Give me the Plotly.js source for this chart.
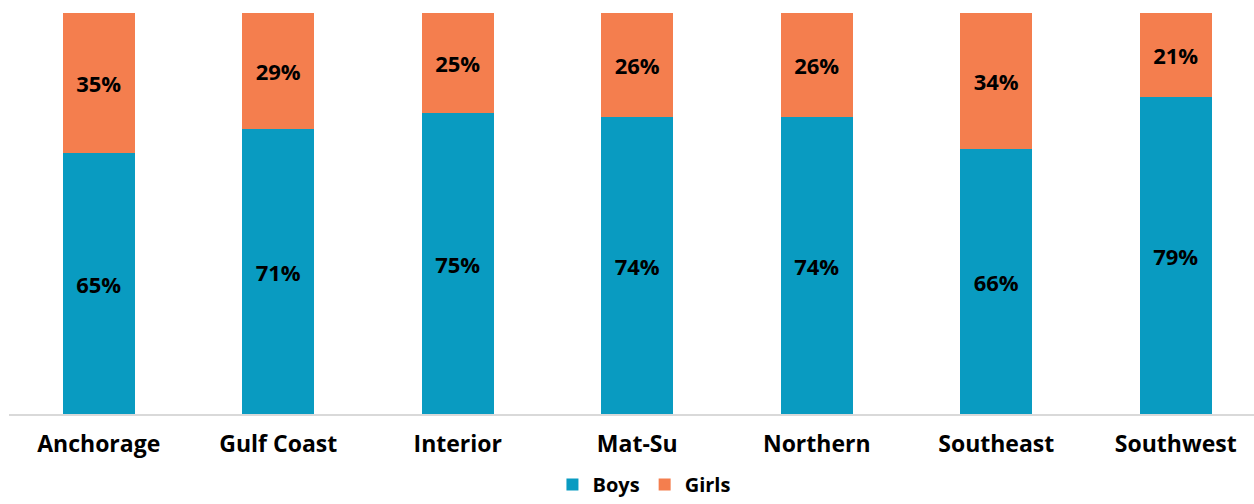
<!DOCTYPE html>
<html>
<head>
<meta charset="utf-8">
<script src="https://cdn.plot.ly/plotly-3.0.1.min.js"></script>
<style>html,body{margin:0;padding:0;background:#fff;}#chart{width:1254px;height:504px;}</style>
</head>
<body>
<div id="chart"></div>
<script>
const regions = ["Anchorage", "Gulf Coast", "Interior", "Mat-Su", "Northern", "Southeast", "Southwest"];
const boys = [65, 71, 75, 74, 74, 66, 79];
const girls = [35, 29, 25, 26, 26, 34, 21];

const fam = "Open Sans, Noto Sans, sans-serif";
const barFont = {family: fam, size: 22, color: "#000", weight: 700};
const tickFont = {family: fam, size: 23, color: "#000", weight: 700};

const traces = [
  {
    type: "bar", name: "Boys", x: regions, y: boys,
    marker: {color: "#099bc1"},
    texttemplate: "%{y}%", textposition: "inside", insidetextanchor: "middle",
    textfont: barFont, hoverinfo: "skip"
  },
  {
    type: "bar", name: "Girls", x: regions, y: girls,
    marker: {color: "#f47e4e"},
    texttemplate: "%{y}%", textposition: "inside", insidetextanchor: "middle",
    textfont: barFont, hoverinfo: "skip"
  }
];

const layout = {
  width: 1254, height: 504,
  margin: {l: 9, r: 0, t: 13, b: 90},
  barmode: "stack",
  bargap: 0.6,
  paper_bgcolor: "#fff", plot_bgcolor: "#fff",
  font: barFont,
  xaxis: {
    range: [-0.5, 6.436],
    showline: true, linecolor: "#d9d9d9", linewidth: 2,
    ticks: "outside", ticklen: 8, tickcolor: "rgba(0,0,0,0)",
    tickfont: tickFont, showgrid: false, fixedrange: true, automargin: false
  },
  yaxis: {
    range: [0, 100], visible: false, showgrid: false, zeroline: false, fixedrange: true
  },
  showlegend: true,
  legend: {
    orientation: "h", x: 0.51, xanchor: "center",
    yref: "container", y: 0, yanchor: "bottom",
    font: {family: fam, size: 20, color: "#000", weight: 700},
    itemwidth: 30, traceorder: "normal"
  }
};

Plotly.newPlot("chart", traces, layout, {displayModeBar: false, staticPlot: true});
</script>
</body>
</html>
